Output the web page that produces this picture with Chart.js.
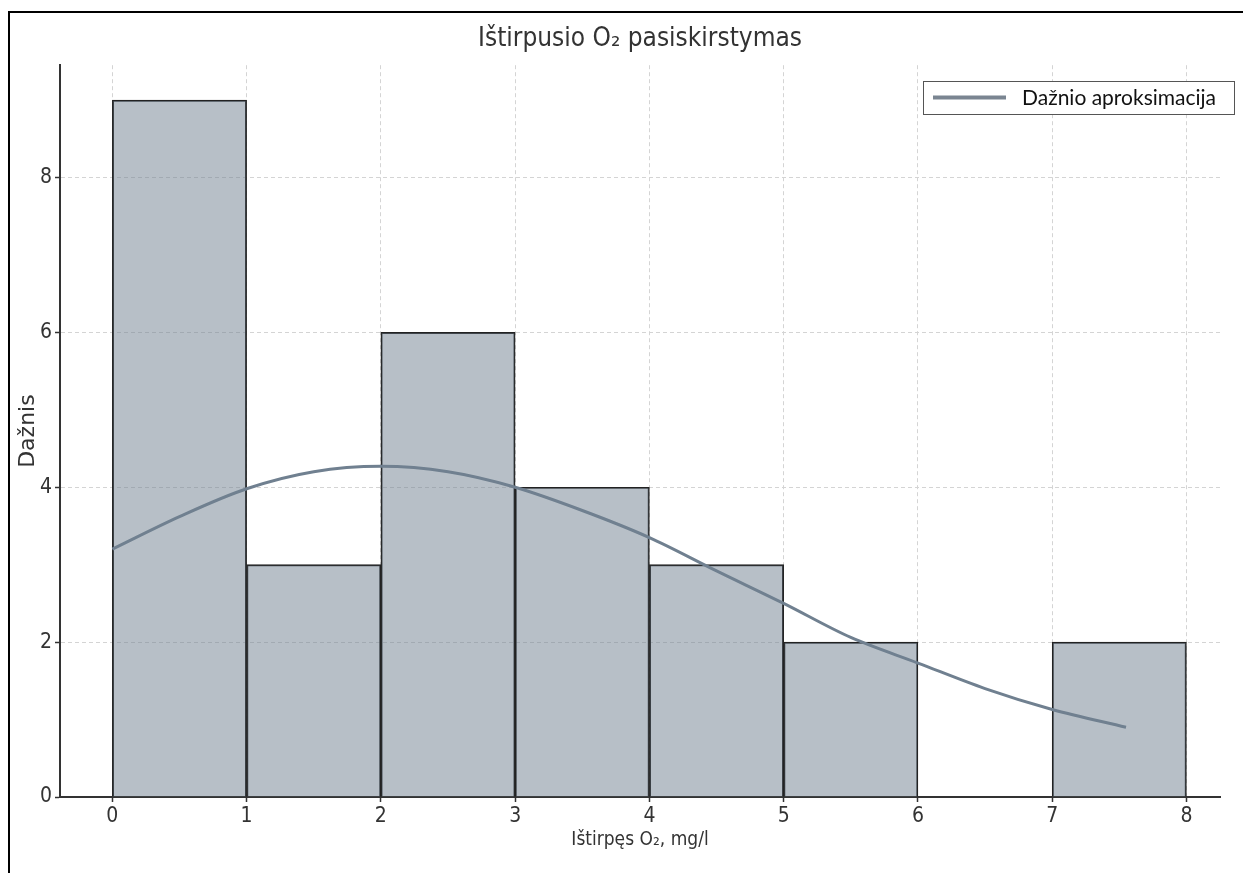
<!DOCTYPE html>
<html>
<head>
<meta charset="utf-8">
<script src="https://cdn.jsdelivr.net/npm/chart.js@4.4.1/dist/chart.umd.min.js"></script>
<style>
  html, body { margin: 0; padding: 0; background: #fff; }
  #wrap { position: relative; width: 1243px; height: 873px; overflow: hidden; }
  #frame { position: absolute; left: 8px; top: 11px; width: 1300px; height: 900px; border-left: 2px solid #000; border-top: 2px solid #000; }
  canvas { position: absolute; left: 0; top: 0; }
</style>
</head>
<body>
<div id="wrap">
  <div id="frame"></div>
  <canvas id="chart" width="1243" height="873"></canvas>
</div>
<script>
// histogramos stulpeliai (intervalų vidurio taškai)
const binCenters = [0.5, 1.5, 2.5, 3.5, 4.5, 5.5, 6.5, 7.5];
const binCounts = [9, 3, 6, 4, 3, 2, 0, 2];

// dažnio aproksimacijos kreivė
const curveX = [0, 0.5, 1, 1.5, 2, 2.5, 3, 3.5, 4, 4.5, 5, 5.5, 6, 6.5, 7, 7.55];
const curveY = [3.2, 3.62, 3.98, 4.2, 4.27, 4.2, 4.0, 3.7, 3.35, 2.92, 2.5, 2.06, 1.73, 1.4, 1.13, 0.9];

const xTicks = [0, 1, 2, 3, 4, 5, 6, 7, 8];
const yTicks = [0, 2, 4, 6, 8];

const titleText = 'Ištirpusio O\u2082 pasiskirstymas';
const xTitle = 'Ištirpęs O\u2082, mg/l';
const yTitle = 'Dažnis';
const legendText = 'Dažnio aproksimacija';

const tickFont = { family: "'Liberation Sans Narrow', 'DejaVu Sans Condensed', sans-serif", size: 21 };

const barData = binCenters.map((x, i) => ({ x: x, y: binCounts[i] }));
const lineData = curveX.map((x, i) => ({ x: x, y: curveY[i] }));

// legenda su rėmeliu plot srities viršuje dešinėje
const boxLegend = {
    id: 'boxLegend',
    afterDraw(chart) {
        const c = chart.ctx;
        const right = chart.width - 9;
        const top = 81;
        const w = 311, h = 33;
        c.save();
        c.fillStyle = '#fff';
        c.fillRect(right - w, top, w, h);
        c.strokeStyle = '#555';
        c.lineWidth = 1;
        c.strokeRect(right - w + 0.5, top + 0.5, w, h);
        c.strokeStyle = '#7a8591';
        c.lineWidth = 4;
        c.beginPath();
        c.moveTo(right - w + 10, top + h / 2);
        c.lineTo(right - w + 83, top + h / 2);
        c.stroke();
        c.fillStyle = '#111';
        c.font = "21px Lato, 'Open Sans', sans-serif";
        c.textBaseline = 'middle';
        c.fillText(legendText, right - w + 99, top + h / 2 + 1);
        c.restore();
    }
};

const gridOpts = {
    color: '#d4d4d4',
    offset: false,
    tickColor: '#333',
    tickLength: 5,
    tickBorderDash: [],
    tickWidth: 1.5
};

const chart = new Chart(document.getElementById('chart'), {
    type: 'bar',
    data: {
        datasets: [
            {
                type: 'line',
                label: legendText,
                data: lineData,
                borderColor: '#708090',
                borderWidth: 3,
                pointRadius: 0,
                tension: 0.4,
                cubicInterpolationMode: 'monotone',
                fill: false,
                order: 0
            },
            {
                type: 'bar',
                label: 'Dažnis',
                data: barData,
                backgroundColor: 'rgba(112,128,144,0.5)',
                borderColor: '#222',
                borderWidth: 1.3,
                barPercentage: 1,
                categoryPercentage: 1,
                order: 1
            }
        ]
    },
    options: {
        responsive: false,
        animation: false,
        layout: { padding: { left: 0, right: 23, top: 0, bottom: 0 } },
        plugins: {
            legend: { display: false },
            tooltip: { enabled: false },
            title: {
                display: true,
                text: titleText,
                fullSize: false,
                color: '#333',
                font: { family: tickFont.family, size: 26, weight: 'normal' },
                padding: { top: 24, bottom: 10 }
            }
        },
        scales: {
            x: {
                type: 'linear',
                offset: false,
                min: -0.39,
                max: 8.25,
                afterBuildTicks: s => { s.ticks = xTicks.map(v => ({ value: v })); },
                afterFit: s => { s.height = 76; },
                grid: gridOpts,
                border: { display: true, color: '#333', width: 2, dash: [4, 3] },
                ticks: { color: '#333', font: tickFont, padding: 2, maxRotation: 0 },
                title: {
                    display: true,
                    text: xTitle,
                    color: '#333',
                    font: { family: tickFont.family, size: 19 },
                    padding: { top: 0, bottom: 22 }
                }
            },
            y: {
                min: 0,
                max: 9.45,
                afterBuildTicks: s => { s.ticks = yTicks.map(v => ({ value: v })); },
                afterFit: s => { s.width = 60; },
                grid: gridOpts,
                border: { display: true, color: '#333', width: 2, dash: [4, 3] },
                ticks: { color: '#333', font: tickFont, padding: 3 },
                title: {
                    display: true,
                    text: yTitle,
                    color: '#333',
                    font: { family: "'DejaVu Sans', sans-serif", size: 22 },
                    padding: { top: 15, bottom: 0 }
                }
            }
        }
    },
    plugins: [boxLegend]
});
</script>
</body>
</html>
